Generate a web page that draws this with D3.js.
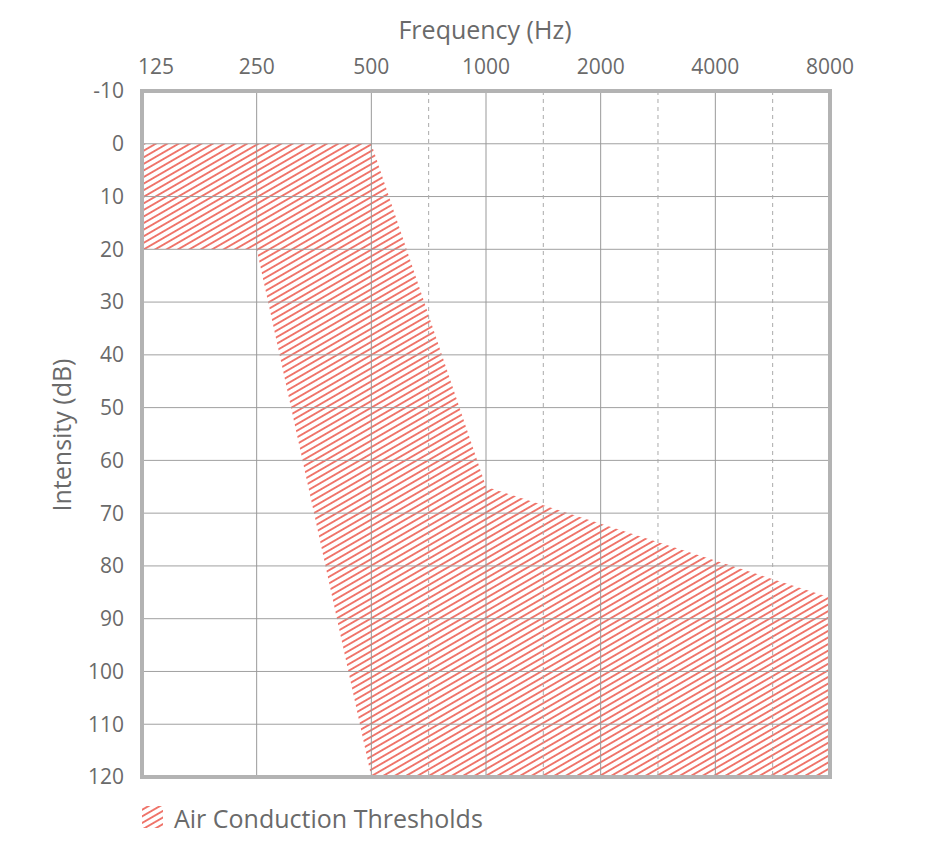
<!DOCTYPE html>
<html><head><meta charset="utf-8">
<script src="https://cdn.jsdelivr.net/npm/d3@7"></script>
<style>body{margin:0;background:#fff}text{font-family:"Open Sans",sans-serif;fill:#6a6a6a}</style>
</head><body>
<svg id="c" width="936" height="842"></svg>
<script>
const freqTicks = [125, 250, 500, 1000, 2000, 4000, 8000];
const halfOctaves = [707, 1414, 2828, 5657];
const dbTicks = [-10, 0, 10, 20, 30, 40, 50, 60, 70, 80, 90, 100, 110, 120];
const regionFreq = [125, 500, 1000, 8000, 8000, 500, 250, 125];
const regionDb = [0, 0, 65, 86, 120, 120, 20, 20];
const legendLabel = "Air Conduction Thresholds";

const svg = d3.select("#c");
const L = 142, R = 830, T = 91, B = 777;
const x = d3.scaleLog().base(2).domain([125, 8000]).range([L, R]);
const y = d3.scaleLinear().domain([-10, 120]).range([T, B]);

const defs = svg.append("defs");
const pat = defs.append("pattern").attr("id", "hatch").attr("patternUnits", "userSpaceOnUse")
  .attr("width", 12).attr("height", 5.7).attr("patternTransform", "rotate(-30)");
pat.append("line").attr("x1", -1).attr("x2", 13).attr("y1", 2.85).attr("y2", 2.85)
  .attr("stroke", "#e83324").attr("stroke-width", 1.3);

// region
const pts = regionFreq.map((f, i) => [x(f), y(regionDb[i])]);
svg.append("path").attr("d", "M" + pts.join("L") + "Z").attr("fill", "url(#hatch)");

// grid
const g = svg.append("g");
g.selectAll(".h").data(dbTicks).join("line")
  .attr("x1", L).attr("x2", R).attr("y1", d => y(d)).attr("y2", d => y(d))
  .attr("stroke", "#a0a0a0").attr("stroke-width", 1);
g.selectAll(".v").data(freqTicks).join("line")
  .attr("y1", T).attr("y2", B).attr("x1", d => x(d)).attr("x2", d => x(d))
  .attr("stroke", "#999").attr("stroke-width", 1);
g.selectAll(".d").data(halfOctaves).join("line")
  .attr("y1", T).attr("y2", B).attr("x1", d => x(d)).attr("x2", d => x(d))
  .attr("stroke", "#aaa").attr("stroke-width", 1).attr("stroke-dasharray", "4,4");

svg.append("rect").attr("x", L).attr("y", T).attr("width", R - L).attr("height", B - T)
  .attr("fill", "none").attr("stroke", "#b3b3b3").attr("stroke-width", 4);

// x tick labels
svg.selectAll(".xt").data(freqTicks).join("text")
  .attr("x", (d, i) => i === 0 ? x(d) - 4 : x(d))
  .attr("y", 67).attr("dy", "0.35em")
  .attr("text-anchor", (d, i) => i === 0 ? "start" : "middle")
  .attr("font-size", 21).text(d => d);

// y tick labels
svg.selectAll(".yt").data(dbTicks).join("text")
  .attr("x", 124).attr("y", d => y(d)).attr("dy", "0.35em")
  .attr("text-anchor", "end").attr("font-size", 21).text(d => d);

svg.append("text").attr("x", 485).attr("y", 30).attr("dy", "0.35em")
  .attr("text-anchor", "middle").attr("font-size", 25).text("Frequency (Hz)");
svg.append("text").attr("transform", "translate(62,435) rotate(-90)").attr("dy", "0.35em")
  .attr("text-anchor", "middle").attr("font-size", 25).text("Intensity (dB)");

// legend
svg.append("rect").attr("x", 142).attr("y", 806).attr("width", 21).attr("height", 22).attr("fill", "url(#hatch)");
svg.append("text").attr("x", 174).attr("y", 819).attr("dy", "0.35em").attr("font-size", 25).text(legendLabel);
</script>
</body></html>
